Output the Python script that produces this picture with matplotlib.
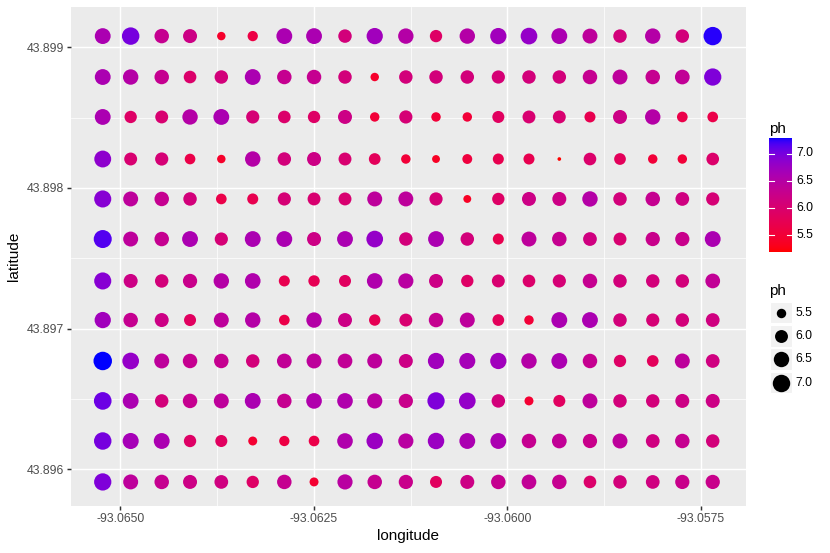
import numpy as np
import matplotlib
matplotlib.use("Agg")
import matplotlib.pyplot as plt
from matplotlib.patches import Rectangle

plt.rcParams['font.family'] = ['Liberation Sans', 'DejaVu Sans']

# ---- data ----
lon = [-93.065227, -93.064866, -93.064465, -93.064099, -93.063695, -93.063289,
       -93.062881, -93.062497, -93.062097, -93.061713, -93.061311, -93.060921,
       -93.060517, -93.060116, -93.059720, -93.059328, -93.058932, -93.058544,
       -93.058121, -93.057739, -93.057346]
lat = [43.899080, 43.898789, 43.898505, 43.898206, 43.897922, 43.897637,
       43.897339, 43.897061, 43.896770, 43.896486, 43.896201, 43.895910]

ph_rows = [
    [6.60, 7.00, 6.30, 6.20, 5.40, 5.60, 6.60, 6.60, 6.10, 6.70, 6.50, 5.90, 6.50, 6.70, 6.80, 6.60, 6.40, 6.10, 6.50, 6.10, 7.25],
    [6.60, 6.50, 6.30, 5.95, 6.10, 6.60, 6.30, 6.30, 6.10, 5.40, 6.10, 6.10, 6.10, 6.05, 6.10, 6.10, 6.30, 6.40, 6.30, 6.35, 6.95],
    [6.60, 5.90, 6.00, 6.50, 6.60, 6.05, 5.95, 5.90, 6.20, 5.50, 6.05, 5.50, 5.50, 5.85, 6.00, 6.00, 5.70, 6.20, 6.50, 5.65, 5.65],
    [6.85, 6.00, 6.05, 5.65, 5.40, 6.50, 6.10, 6.20, 6.00, 5.80, 5.50, 5.35, 5.55, 5.70, 5.70, 5.18, 5.95, 5.80, 5.50, 5.50, 5.95],
    [6.90, 6.40, 6.30, 6.10, 5.65, 5.70, 6.05, 6.00, 6.00, 6.40, 6.40, 6.05, 5.35, 5.90, 6.20, 6.20, 6.50, 6.10, 6.30, 6.15, 6.05],
    [7.15, 6.40, 6.30, 6.60, 6.05, 6.60, 6.60, 6.20, 6.60, 6.80, 6.10, 6.60, 6.10, 5.70, 6.40, 6.30, 6.15, 6.00, 6.25, 6.25, 6.60],
    [6.90, 6.20, 6.10, 6.25, 6.50, 6.55, 5.70, 5.75, 5.85, 6.55, 6.45, 6.20, 5.90, 6.00, 5.95, 6.05, 6.30, 6.10, 6.10, 6.10, 6.35],
    [6.70, 6.30, 6.20, 5.85, 6.40, 6.50, 5.65, 6.50, 6.20, 5.75, 6.00, 6.30, 6.40, 5.80, 5.50, 6.60, 6.60, 6.10, 6.05, 6.10, 6.15],
    [7.28, 6.80, 6.40, 6.30, 6.30, 6.10, 6.35, 6.40, 6.35, 6.40, 6.20, 6.70, 6.65, 6.70, 6.50, 6.60, 6.30, 5.90, 5.80, 6.40, 6.15],
    [7.05, 6.60, 6.10, 6.30, 6.40, 6.60, 6.30, 6.55, 6.55, 6.45, 6.25, 6.95, 6.80, 6.10, 5.45, 5.85, 6.40, 6.10, 6.10, 6.20, 6.20],
    [7.00, 6.65, 6.60, 5.90, 5.85, 5.45, 5.60, 5.65, 6.55, 6.75, 6.45, 6.75, 6.60, 6.60, 6.30, 6.35, 6.25, 6.40, 6.15, 6.30, 6.10],
    [6.95, 6.40, 6.30, 6.20, 6.15, 5.90, 6.30, 5.45, 6.45, 6.30, 6.25, 5.85, 6.20, 6.30, 6.35, 6.30, 5.95, 6.10, 6.15, 6.25, 6.25],
]

x_ticks = [-93.0650, -93.0625, -93.0600, -93.0575]
x_labels = ["-93.0650", "-93.0625", "-93.0600", "-93.0575"]
y_ticks = [43.896, 43.897, 43.898, 43.899]
y_labels = ["43.896", "43.897", "43.898", "43.899"]
legend_breaks = [5.5, 6.0, 6.5, 7.0]
legend_labels = ["5.5", "6.0", "6.5", "7.0"]

# ---- colour scale (CIELAB interpolation red -> blue, like ggplot) ----
WHITE = np.array([0.95047, 1.0, 1.08883])
M = np.array([[0.4124564, 0.3575761, 0.1804375],
              [0.2126729, 0.7151522, 0.0721750],
              [0.0193339, 0.1191920, 0.9503041]])
Minv = np.linalg.inv(M)


def srgb_to_lab(rgb):
    c = np.asarray(rgb, float)
    lin = np.where(c <= 0.04045, c / 12.92, ((c + 0.055) / 1.055) ** 2.4)
    xyz = M @ lin / WHITE
    d = 6 / 29
    f = np.where(xyz > d ** 3, np.cbrt(xyz), xyz / (3 * d * d) + 4 / 29)
    return np.array([116 * f[1] - 16, 500 * (f[0] - f[1]), 200 * (f[1] - f[2])])


def lab_to_srgb(lab):
    L, a, b = lab
    fy = (L + 16) / 116
    fx = fy + a / 500
    fz = fy - b / 200
    d = 6 / 29
    f = np.array([fx, fy, fz])
    xyz = np.where(f > d, f ** 3, 3 * d * d * (f - 4 / 29)) * WHITE
    lin = Minv @ xyz
    lin = np.clip(lin, 0, 1)
    c = np.where(lin <= 0.0031308, 12.92 * lin, 1.055 * lin ** (1 / 2.4) - 0.055)
    return np.clip(c, 0, 1)


LAB_LO = srgb_to_lab([1, 0, 0])
LAB_HI = srgb_to_lab([0, 0, 1])


def colour_of(t):
    return lab_to_srgb(LAB_LO + (LAB_HI - LAB_LO) * t)


ph = np.array(ph_rows)
lon_g, lat_g = np.meshgrid(lon, lat)
xs = lon_g.ravel()
ys = lat_g.ravel()
vals = ph.ravel()
vmin, vmax = vals.min(), vals.max()


def tnorm(v):
    return (np.asarray(v, float) - vmin) / (vmax - vmin)


def size_pt2(v):
    size = 1 + 5 * np.sqrt(np.clip(tnorm(v), 0, 1))
    d = 2.134 * size + 0.5
    return d ** 2


cols = np.array([colour_of(t) for t in tnorm(vals)])

# ---- figure ----
W, H = 830, 553
fig = plt.figure(figsize=(W / 100, H / 100), dpi=100)

pl, pr, pt_, pb = 71, 745.7, 6.7, 505.7
ax = fig.add_axes([pl / W, 1 - pb / H, (pr - pl) / W, (pb - pt_) / H])
ax.set_facecolor('#EBEBEB')
ax.set_xlim(-93.065637, -93.056920)
ax.set_ylim(43.895741, 43.899289)

for v in [-93.06375, -93.06125, -93.05875]:
    ax.axvline(v, color='white', lw=0.53, zorder=0.5)
for v in [43.8965, 43.8975, 43.8985]:
    ax.axhline(v, color='white', lw=0.53, zorder=0.5)
for v in x_ticks:
    ax.axvline(v, color='white', lw=1.07, zorder=0.6)
for v in y_ticks:
    ax.axhline(v, color='white', lw=1.07, zorder=0.6)

ax.scatter(xs, ys, s=size_pt2(vals), c=cols, linewidths=0, zorder=2)

ax.set_xticks(x_ticks)
ax.set_xticklabels(x_labels)
ax.set_yticks(y_ticks)
ax.set_yticklabels(y_labels)
ax.tick_params(axis='both', length=2.75, width=1.07, color='#333333',
               labelsize=8.8, labelcolor='#4D4D4D', pad=2.2)
for s in ax.spines.values():
    s.set_visible(False)
ax.set_xlabel('longitude', fontsize=11, color='black', labelpad=3)
ax.set_ylabel('latitude', fontsize=11, color='black', labelpad=4)

# ---- legends (figure pixel coordinates) ----
lg = fig.add_axes([0, 0, 1, 1])
lg.set_xlim(0, W)
lg.set_ylim(H, 0)
lg.axis('off')

# colourbar
cb_x0, cb_x1, cb_y0, cb_y1 = 769, 791.7, 138.3, 252.3
grad = np.linspace(1, 0, 300)
img = np.array([colour_of(t) for t in grad])[:, None, :]
lg.imshow(img, extent=[cb_x0, cb_x1, cb_y1, cb_y0], aspect='auto', interpolation='bilinear', zorder=1)
lg.text(cb_x0, 129, 'ph', fontsize=11, ha='left', va='center')
bw = cb_x1 - cb_x0
for b, lab in zip(legend_breaks, legend_labels):
    yy = cb_y1 - (b - vmin) / (vmax - vmin) * (cb_y1 - cb_y0)
    lg.plot([cb_x0, cb_x0 + bw / 5], [yy, yy], color='white', lw=0.8, zorder=2)
    lg.plot([cb_x1 - bw / 5, cb_x1], [yy, yy], color='white', lw=0.8, zorder=2)
    lg.text(796.5, yy, lab, fontsize=8.8, ha='left', va='center', color='black')
lg.set_xlim(0, W)
lg.set_ylim(H, 0)

# size legend
lg.text(cb_x0, 291, 'ph', fontsize=11, ha='left', va='center')
key_centres = [312.5, 335.8, 359.2, 382.5]
for b, lab, yc in zip(legend_breaks, legend_labels, key_centres):
    lg.add_patch(Rectangle((770, yc - 10.8), 21.7, 21.6, facecolor='#F2F2F2',
                           edgecolor='white', lw=0.8, zorder=1))
    lg.scatter([780.85], [yc], s=size_pt2(b), c='black', linewidths=0, zorder=2)
    lg.text(795.7, yc, lab, fontsize=8.8, ha='left', va='center', color='black')

fig.savefig('out.png', dpi=100)
